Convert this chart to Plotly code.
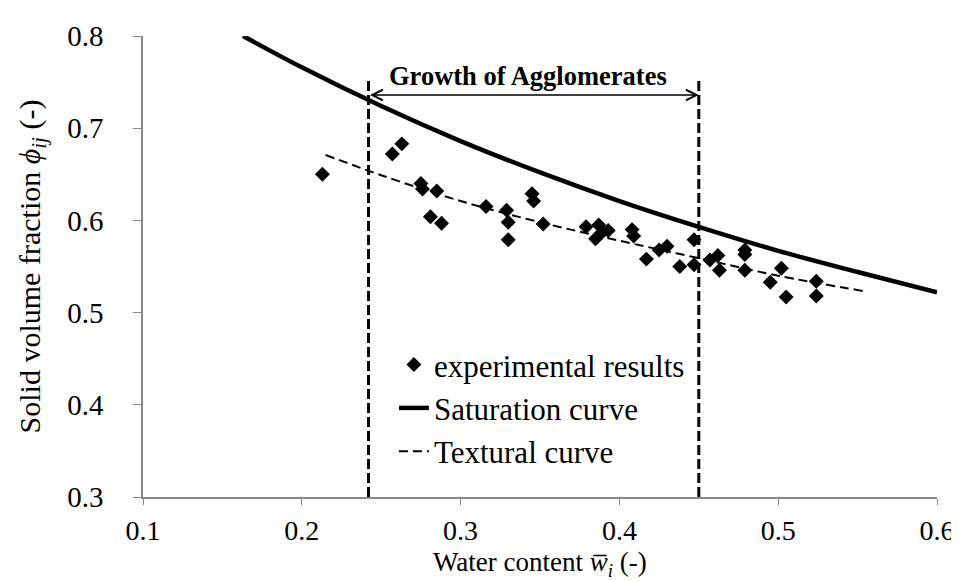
import plotly.graph_objects as go

# experimental results: water content vs solid volume fraction
exp_w = [0.213, 0.257, 0.263, 0.275, 0.276, 0.285, 0.281, 0.288, 0.316, 0.329,
         0.330, 0.330, 0.345, 0.346, 0.352, 0.379, 0.387, 0.385, 0.389, 0.393,
         0.408, 0.409, 0.417, 0.425, 0.430, 0.438, 0.447, 0.447, 0.457, 0.462,
         0.463, 0.479, 0.479, 0.479, 0.495, 0.502, 0.505, 0.524, 0.524]
exp_phi = [0.650, 0.672, 0.683, 0.640, 0.634, 0.632, 0.604, 0.597, 0.615, 0.611,
           0.598, 0.579, 0.629, 0.621, 0.596, 0.593, 0.595, 0.580, 0.587, 0.589,
           0.590, 0.583, 0.558, 0.568, 0.572, 0.550, 0.579, 0.552, 0.557, 0.562,
           0.546, 0.568, 0.563, 0.546, 0.533, 0.548, 0.517, 0.534, 0.518]

# saturation curve
sat_w = [0.163, 0.20, 0.25, 0.30, 0.35, 0.40, 0.45, 0.50, 0.55, 0.60]
sat_phi = [0.800, 0.766, 0.724, 0.686, 0.652, 0.621, 0.593, 0.567, 0.544, 0.522]

# textural curve
tex_w = [0.215, 0.25, 0.30, 0.35, 0.40, 0.45, 0.50, 0.555]
tex_phi = [0.671, 0.649, 0.621, 0.598, 0.578, 0.559, 0.540, 0.523]

# growth of agglomerates window
growth_w = [0.242, 0.450]
growth_top = 0.752
arrow_phi = 0.736

FONT = "Liberation Serif, Times New Roman, serif"

fig = go.Figure()

for w in growth_w:
    fig.add_trace(go.Scatter(x=[w, w], y=[0.3, growth_top], mode='lines', showlegend=False,
                             line=dict(color='black', width=3, dash='10px,4px'), hoverinfo='skip'))

fig.add_trace(go.Scatter(x=exp_w, y=exp_phi, mode='markers', name='experimental results',
                         marker=dict(symbol='diamond', size=11.5, color='black')))
fig.add_trace(go.Scatter(x=sat_w, y=sat_phi, mode='lines', name='Saturation curve',
                         line=dict(color='black', width=4.5, shape='spline')))
fig.add_trace(go.Scatter(x=tex_w, y=tex_phi, mode='lines', name='Textural curve',
                         line=dict(color='black', width=2, dash='9px,5px', shape='spline')))

fig.add_annotation(x=growth_w[1], y=arrow_phi, ax=growth_w[0], ay=arrow_phi,
                   xref='x', yref='y', axref='x', ayref='y', text='',
                   showarrow=True, arrowside='end+start', arrowhead=5, arrowsize=1.6,
                   arrowwidth=1.3, arrowcolor='black', standoff=0, startstandoff=0)
fig.add_annotation(x=sum(growth_w) / 2, y=arrow_phi, xref='x', yref='y', xshift=-6, yshift=19,
                   text='<b>Growth of Agglomerates</b>', showarrow=False,
                   font=dict(family=FONT, size=26.5, color='black'))

# x axis title as a paper annotation so it stays inside the canvas
fig.add_annotation(x=0.5, y=0, xref='paper', yref='paper', yshift=-67, yanchor='middle',
                   text='Water content <i>w\u0305</i><sub><i>i</i></sub> (-)', showarrow=False,
                   font=dict(family=FONT, size=27, color='black'))

fig.update_xaxes(range=[0.1, 0.6], dtick=0.1, tickformat='.1f', showline=True, linecolor='#898989',
                 linewidth=1.5, ticks='outside', ticklen=6, tickcolor='#898989', showgrid=False,
                 zeroline=False, ticklabelstandoff=2, tickfont=dict(size=28))
fig.update_yaxes(range=[0.3, 0.8], dtick=0.1, tickformat='.1f', showline=True, linecolor='#898989',
                 linewidth=1.5, ticks='outside', ticklen=8, tickcolor='#898989', showgrid=False,
                 zeroline=False, ticklabelstandoff=24, tickfont=dict(size=29),
                 title=dict(text='Solid volume fraction <i>\u03d5</i><sub><i>ij</i></sub> (-)', standoff=18,
                            font=dict(family=FONT, size=30, color='black')))

fig.update_layout(width=959, height=581, plot_bgcolor='white', paper_bgcolor='white',
                  margin=dict(l=135, r=24, t=24, b=92),
                  font=dict(family=FONT, size=29, color='black'),
                  legend=dict(x=0.316, y=0.345, xanchor='left', yanchor='top', bgcolor='rgba(0,0,0,0)',
                              font=dict(family=FONT, size=31, color='black'), tracegroupgap=0))

fig.write_html("out.html")
